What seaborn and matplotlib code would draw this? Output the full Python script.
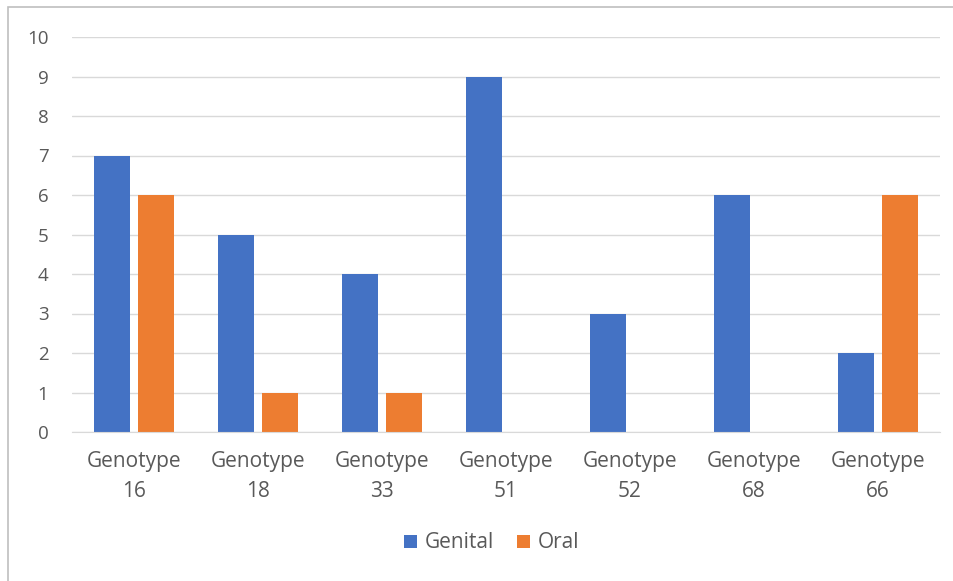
import pandas as pd
import seaborn as sns
import matplotlib.pyplot as plt
from matplotlib.patches import Rectangle

# data
genotypes = ['Genotype\n16', 'Genotype\n18', 'Genotype\n33', 'Genotype\n51',
             'Genotype\n52', 'Genotype\n68', 'Genotype\n66']
genital = [7, 5, 4, 9, 3, 6, 2]
oral = [6, 1, 1, 0, 0, 0, 6]

df = pd.DataFrame({'Genotype': genotypes * 2,
                   'Count': genital + oral,
                   'Site': ['Genital'] * len(genotypes) + ['Oral'] * len(genotypes)})

sns.set_style('white')
plt.rcParams['font.family'] = ['Open Sans', 'DejaVu Sans']

fig = plt.figure(figsize=(9.54, 5.81), dpi=100)
ax = fig.add_axes([72 / 954, 149 / 581, 868 / 954, 395 / 581])

sns.barplot(data=df, x='Genotype', y='Count', hue='Site',
            palette={'Genital': '#4472C4', 'Oral': '#ED7D31'},
            width=0.71, gap=0.2, saturation=1, linewidth=0,
            ax=ax, legend=True)

ax.set_ylim(0, 10)
ax.set_xlim(-0.5, len(genotypes) - 0.5)
ax.set_yticks(range(0, 11))
ax.yaxis.grid(True, color='#D9D9D9', linewidth=1)
ax.set_axisbelow(True)
for s in ['top', 'right', 'left']:
    ax.spines[s].set_visible(False)
ax.spines['bottom'].set_color('#D9D9D9')
ax.tick_params(axis='both', length=0, labelsize=13.5, labelcolor='#595959')
ax.tick_params(axis='y', pad=17)
ax.tick_params(axis='x', pad=14)
for lbl in ax.get_xticklabels():
    lbl.set_linespacing(1.55)
    lbl.set_fontsize(15)
ax.set_xlabel('')
ax.set_ylabel('')

ax.legend(loc='center', bbox_to_anchor=(492 / 954, 38 / 581),
          bbox_transform=fig.transFigure, ncol=2, frameon=False,
          fontsize=15, labelcolor='#595959', handlelength=0.6, handleheight=0.6,
          handletextpad=0.4, columnspacing=1.1)

# outer chart border
fig.patches.append(Rectangle((8 / 954, -0.1), 1.0, 1.1 - 7 / 581,
                             transform=fig.transFigure, fill=False,
                             edgecolor='#BFBFBF', linewidth=1.2))

fig.savefig('out.png', dpi=100)
